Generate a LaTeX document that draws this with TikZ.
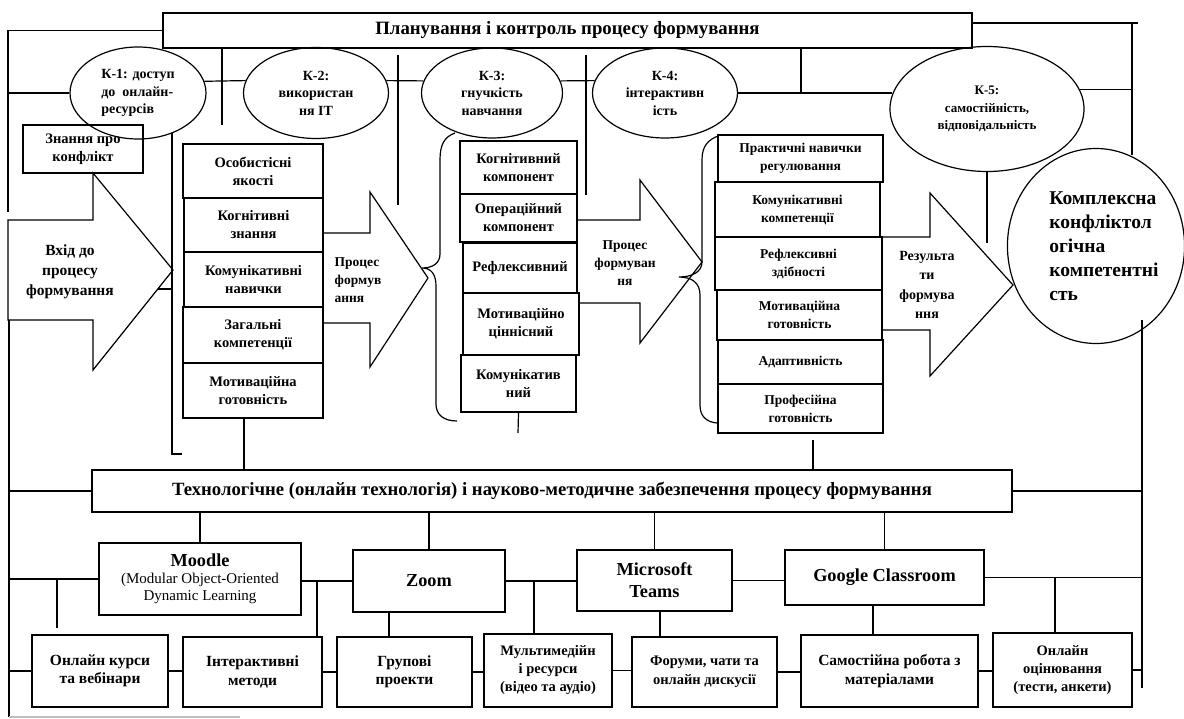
\documentclass[tikz,border=0pt]{standalone}
\usepackage{fontspec}
\setmainfont{Liberation Serif}
\usetikzlibrary{shapes.geometric,calc}
\newcommand\fz[2]{\fontsize{#1}{#2}\selectfont}
\begin{document}
\begin{tikzpicture}[x=1pt,y=-1pt,
  ln/.style={line width=1.2pt},
  bx/.style={draw, line width=1.2pt, inner sep=0pt, align=center, font=\fz{14.5}{18}\bfseries},
  el/.style={draw, ellipse, line width=1.2pt, inner sep=0pt, align=center, font=\fz{14}{17.5}\bfseries},
  tx/.style={inner sep=0pt, align=center, font=\fz{14}{18}\bfseries},
  big/.style={bx, font=\fz{18.3}{22}\bfseries},
  low/.style={bx, font=\fz{15.5}{18.5}\bfseries}]
\useasboundingbox[fill=white] (0,0) rectangle (1184,719);

% ---- top
\node[bx, minimum width=809, minimum height=35, font=\fz{18.8}{20}\bfseries] (top) at (567.5,30.5) {Планування і контроль процесу формування};

% ---- K ellipses
\node[el, minimum width=136, minimum height=92, align=left] (k1) at (138,93) {К-1: доступ\\до\ \ онлайн-\\ресурсів};
\node[el, minimum width=145, minimum height=91] (k2) at (316,93) {К-2:\\використан\\ня ІТ};
\node[el, minimum width=141, minimum height=90] (k3) at (492,93) {К-3:\\гнучкість\\навчання};
\node[el, minimum width=145, minimum height=90] (k4) at (665,93) {К-4:\\інтерактивн\\ість};
\node[el, minimum width=194, minimum height=125, font=\fz{13}{17.5}\bfseries] (k5) at (987,109) {К-5:\\самостійність,\\відповідальність};
\node[el, minimum width=168, minimum height=195, align=left, font=\fz{19.5}{24}\bfseries] (kk) at (1096,246) {\hspace*{16pt}Комплексна\\\hspace*{16pt}конфліктол\\\hspace*{16pt}огічна\\\hspace*{16pt}компетентні\\\hspace*{16pt}сть};

% ---- knowledge box and input arrow
\node[bx, minimum width=120, minimum height=48] (zn) at (83,149) {Знання про\\конфлікт};
\draw[ln] (8,220) -- (93,220) -- (93,173) -- (173,270) -- (93,370) -- (93,320) -- (8,320) -- cycle;
\node[tx, font=\fz{15.5}{20}\bfseries] (tin) at (70,272) {Вхід до\\процесу\\формування};

% ---- column 1
\node[bx, minimum width=140, minimum height=54] (a1) at (253,171) {Особистісні\\якості};
\node[bx, minimum width=139, minimum height=54] (a2) at (253.5,225) {Когнітивні\\знання};
\node[bx, minimum width=139, minimum height=55] (a3) at (253.5,279.5) {Комунікативні\\навички};
\node[bx, minimum width=140, minimum height=56] (a4) at (253,335) {Загальні\\компетенції};
\node[bx, minimum width=140, minimum height=55] (a5) at (253,390.5) {Мотиваційна\\готовність};

% arrow 1
\draw[ln] (323,233) -- (370,233) -- (370,192) -- (428,278) -- (370,367) -- (370,323) -- (323,323);
\node[tx, align=left, font=\fz{13.5}{18}\bfseries] (t1) at (358,280) {Процес\\формув\\ання};
% brace 1
\draw[ln] (455,133) .. controls (444,137) and (440,145) .. (440,160) -- (440,254)
  .. controls (440,263) and (433,268) .. (422,268)
  .. controls (431,268) and (436,274) .. (436,286) -- (436,404)
  .. controls (436,415) and (444,421) .. (457,421);

% ---- column 2
\node[bx, minimum width=117, minimum height=53] (b1) at (518.5,167.5) {Когнітивний\\компонент};
\node[bx, minimum width=117, minimum height=48] (b2) at (518.5,218) {Операційний\\компонент};
\node[bx, minimum width=114, minimum height=50] (b3) at (520,268) {Рефлексивний};
\node[bx, minimum width=116, minimum height=62] (b4) at (521,324) {Мотиваційно\\ціннісний};
\node[bx, minimum width=115, minimum height=57] (b5) at (518.5,383.5) {Комунікатив\\ний};

% arrow 2
\draw[ln] (577,220) -- (640,220) -- (640,180) -- (702,262) -- (640,343) -- (640,303) -- (579,303);
\node[tx, font=\fz{13.5}{18}\bfseries] (t2) at (625,263) {Процес\\формуван\\ня};
% brace 2
\draw[ln] (718,136) .. controls (708,140) and (702,146) .. (702,160) -- (702,262)
  .. controls (702,272) and (692,277) .. (679,277)
  .. controls (692,277) and (700,283) .. (700,295) -- (700,405)
  .. controls (700,416) and (706,422) .. (717,423);

% ---- column 3
\node[bx, minimum width=165, minimum height=47, font=\fz{13.5}{18}\bfseries] (c1) at (800.5,158.5) {Практичні навички\\регулювання};
\node[bx, minimum width=165, minimum height=55, font=\fz{13.5}{18}\bfseries] (c2) at (797.5,209.5) {Комунікативні\\компетенції};
\node[bx, line width=1.9pt, minimum width=167, minimum height=53, font=\fz{13.5}{18}\bfseries] (c3) at (798.5,263.5) {Рефлексивні\\здібності};
\node[bx, minimum width=165, minimum height=50, font=\fz{13.5}{18}\bfseries] (c4) at (799.5,315) {Мотиваційна\\готовність};
\node[bx, minimum width=165, minimum height=44, font=\fz{13.5}{18}\bfseries] (c5) at (800.5,362) {Адаптивність};
\node[bx, minimum width=165, minimum height=49, font=\fz{13.5}{18}\bfseries] (c6) at (800.5,408.5) {Професійна\\готовність};

% arrow 3
\draw[ln] (882,237) -- (930,237) -- (930,193) -- (1013,285) -- (930,376) -- (930,330) -- (882,330);
\node[tx, font=\fz{14}{19.5}\bfseries] (t3) at (927,285) {Результа\\ти\\формува\\ння};

% ---- technology box
\node[bx, minimum width=920, minimum height=42, font=\fz{18.7}{20}\bfseries] (tech) at (552,491) {Технологічне (онлайн технологія) і науково-методичне забезпечення процесу формування};

% ---- platforms
\node[bx, minimum width=202, minimum height=72, font=\fz{15}{17}] (moodle) at (200,579) {{\fz{18.3}{21}\bfseries Moodle}\\(Modular Object-Oriented\\Dynamic Learning};
\node[big, minimum width=152, minimum height=62] (zoom) at (429,581) {Zoom};
\node[big, minimum width=155, minimum height=61] (teams) at (654.5,580.5) {Microsoft\\Teams};
\node[big, minimum width=199, minimum height=55] (google) at (884.5,577.5) {Google Classroom};

% ---- bottom row
\node[low, minimum width=136, minimum height=72] (d1) at (100,671) {Онлайн курси\\та вебінари};
\node[low, minimum width=139, minimum height=70] (d2) at (252.5,672) {Інтерактивні\\методи};
\node[low, minimum width=135, minimum height=70] (d3) at (404.5,672) {Групові\\проекти};
\node[low, minimum width=128, minimum height=73, font=\fz{14.5}{18}\bfseries] (d4) at (548,670.5) {Мультимедійн\\і ресурси\\(відео та аудіо)};
\node[low, minimum width=145, minimum height=70, font=\fz{14.5}{18.5}\bfseries] (d5) at (704.5,672) {Форуми, чати та\\онлайн дискусії};
\node[low, minimum width=177, minimum height=72] (d6) at (889.5,671) {Самостійна робота з\\матеріалами};
\node[low, minimum width=139, minimum height=74, font=\fz{14.5}{18}\bfseries] (d7) at (1062.5,670) {Онлайн\\оцінювання\\(тести, анкети)};

% ---- coordinates for free ends
\coordinate (lt) at (8,212);
\coordinate (lb) at (9,717);
\coordinate (lbe) at (240,717);
\coordinate (v1) at (222,125);
\coordinate (v2a) at (398,55); \coordinate (v2b) at (398,205);
\coordinate (v3a) at (586,55); \coordinate (v3b) at (586,195);
\coordinate (v4) at (801,93);
\coordinate (tr) at (1138,23);
\coordinate (rv) at (1132,155);
\coordinate (k5d) at (987,243);
\coordinate (s1a) at (172,133); \coordinate (s1b) at (172,454); \coordinate (s1c) at (182,454);
\coordinate (s1d) at (158,289);
\coordinate (ca) at (244,418);
\coordinate (cb) at (518,433);
\coordinate (cc) at (813,440);
\coordinate (rr) at (1142,320); \coordinate (rrb) at (1142,688);
\coordinate (m0) at (57,628);
\coordinate (m1) at (317,586);
\coordinate (z1) at (389,612);
\coordinate (z2) at (534,586);
\coordinate (t5) at (660,611);
\coordinate (g1) at (873,605);
\coordinate (g2) at (1055,577.5);

% ---- connectors top part
\draw[ln] (top.west) -| (lt);
\draw[ln] (k1.west) -- (k1.west -| lt);
\draw[ln] (v1 |- top.south) -- (v1);
\draw[ln] (k1.10) -- (k2.170);
\draw[ln] (v2a) -- (v2b);
\draw[ln] (k2.10) -- (k3.170);
\draw[ln] (v3a) -- (v3b);
\draw[ln] (k3.10) -- (k4.170);
\draw[ln] (k4.east) -- ($(k4.east -| k5.west)+(3,0)$);
\draw[ln] (v4 |- top.south) -- (v4);
\draw[ln] (top.east |- tr) -- (tr);
\draw[ln] (rv |- tr) -- (rv);
\draw[ln] (k5.12) -- (k5.12 -| rv);
\draw[ln] (k5.south) -- (k5d);
\draw[ln] (s1a) -- (s1b) -- (s1c);
\draw[ln] (s1d) -- (s1d -| s1a);

% ---- left frame
\draw[ln] (9,320) -- (lb);
\draw[line width=1.2pt, gray!50] (lb) -- (lbe);
\draw[ln] (tech.west) -- (tech.west -| lb);
\draw[ln] (moodle.west) -- (moodle.west -| lb);
\draw[ln] (m0 |- moodle.west) -- (m0);
\draw[ln] (d1.west) -- ($(d1.west -| lb)+(-1,0)$);

% ---- vertical links into technology box
\draw[ln] (ca) -- (ca |- tech.north);
\draw[ln] (b5.south) -- (cb);
\draw[ln] (cc) -- (cc |- tech.north);

% ---- right frame
\draw[ln] (rr) -- (rrb);
\draw[ln] (tech.east) -- (tech.east -| rr);
\draw[ln] (google.east) -- (google.east -| rr);
\draw[ln] (g2) -- (g2 |- d7.north);
\draw[ln] (d7.east) -- (d7.east -| rr);

% ---- platform links
\draw[ln] (moodle.north |- tech.south) -- (moodle.north);
\draw[ln] (zoom.north |- tech.south) -- (zoom.north);
\draw[ln] (teams.north |- tech.south) -- (teams.north);
\draw[ln] (google.north |- tech.south) -- (google.north);
\draw[ln] (zoom.west) -- (zoom.west -| moodle.east);
\draw[ln] (m1 |- zoom.west) -- (m1 |- d2.north);
\draw[ln] (z1) -- (z1 |- d3.north);
\draw[ln] (zoom.east) -- (zoom.east -| teams.west);
\draw[ln] (z2 |- zoom.east) -- (z2 |- d4.north);
\draw[ln] (t5) -- (t5 |- d5.north);
\draw[ln] (teams.east) -- (teams.east -| google.west);
\draw[ln] (g1) -- (g1 |- d6.north);

% ---- bottom chain
\draw[ln] (d1.east) -- (d1.east -| d2.west);
\draw[ln] (d2.east) -- (d2.east -| d3.west);
\draw[ln] (d3.east) -- (d3.east -| d4.west);
\draw[ln] (d4.east) -- (d4.east -| d5.west);
\draw[ln] (d5.east) -- (d5.east -| d6.west);
\draw[ln] (d6.east) -- (d6.east -| d7.west);
\end{tikzpicture}
\end{document}
